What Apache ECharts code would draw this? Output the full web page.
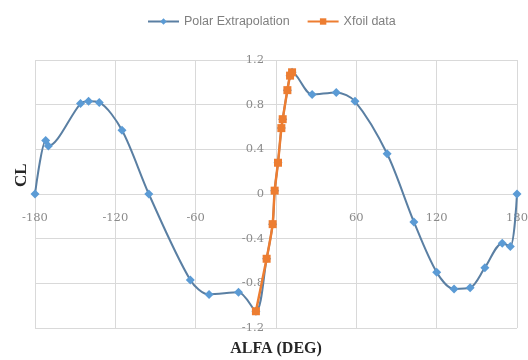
<!DOCTYPE html>
<html>
<head>
<meta charset="utf-8">
<script src="https://cdn.jsdelivr.net/npm/echarts@6/dist/echarts.min.js"></script>
<style>
  html, body { margin: 0; padding: 0; background: #ffffff; }
  #chart { width: 528px; height: 360px; }
</style>
</head>
<body>
<div id="chart"></div>
<script>
// Lift coefficient vs angle of attack
var xTicks = [-180, -120, -60, 0, 60, 120, 180];
var yTicks = [-1.2, -0.8, -0.4, 0, 0.4, 0.8, 1.2];

// Xfoil data (alpha in degrees, CL)
var xfoilAlpha = [-15, -7, -2.5, -1, 1.5, 4, 5, 8.5, 10.5, 12];
var xfoilCL    = [-1.05, -0.58, -0.27, 0.03, 0.28, 0.59, 0.67, 0.93, 1.06, 1.09];

// Polar extrapolation over the full range
var polarAlpha = [-180, -172, -170, -146, -140, -132, -115, -95, -64, -50, -28,
                  -15, -7, -2.5, -1, 1.5, 4, 5, 8.5, 10.5, 12,
                  27, 45, 59, 83, 103, 120, 133, 145, 156, 169, 175, 180];
var polarCL    = [0, 0.48, 0.43, 0.81, 0.83, 0.82, 0.57, 0, -0.77, -0.9, -0.88,
                  -1.05, -0.58, -0.27, 0.03, 0.28, 0.59, 0.67, 0.93, 1.06, 1.09,
                  0.89, 0.91, 0.83, 0.36, -0.25, -0.7, -0.85, -0.84, -0.66, -0.44, -0.47, 0];

function pairs(xs, ys) {
  return xs.map(function (x, i) { return [x, ys[i]]; });
}

var chart = echarts.init(document.getElementById('chart'), null, { renderer: 'canvas' });

var GRID = { left: 35, right: 11, top: 60, bottom: 32, outerBoundsMode: 'none' };
var labelFont = { color: '#8a8a8a', fontFamily: 'DejaVu Serif, Liberation Serif, serif', fontSize: 11.5 };
var hiddenLine = { show: false, onZero: false };
var gridLine = { show: true, lineStyle: { color: '#d9d9d9', width: 1 } };

chart.setOption({
  animation: false,
  backgroundColor: '#ffffff',
  grid: GRID,
  legend: {
    top: 10,
    left: 142,
    itemWidth: 31,
    itemHeight: 8,
    itemGap: 17,
    textStyle: { color: '#7f7f7f', fontSize: 12.5, fontFamily: 'Liberation Sans, Arial, sans-serif' },
    data: ['Polar Extrapolation', 'Xfoil data']
  },
  xAxis: {
    type: 'value',
    min: xTicks[0],
    max: xTicks[xTicks.length - 1],
    interval: 60,
    axisLine: hiddenLine,
    axisTick: { show: false },
    axisLabel: Object.assign({
      margin: 18,
      formatter: function (v) { return v === 0 ? '' : String(v); }
    }, labelFont),
    splitLine: gridLine
  },
  yAxis: {
    type: 'value',
    min: yTicks[0],
    max: yTicks[yTicks.length - 1],
    interval: 0.4,
    axisLine: hiddenLine,
    axisTick: { show: false },
    axisLabel: Object.assign({
      margin: 12,
      formatter: function (v) { return String(Math.round(v * 10) / 10); }
    }, labelFont),
    splitLine: gridLine
  },
  series: [
    {
      name: 'Polar Extrapolation',
      type: 'line',
      smooth: 0.3,
      data: pairs(polarAlpha, polarCL),
      symbol: 'diamond',
      symbolSize: 9,
      lineStyle: { color: '#5a7fa3', width: 2 },
      itemStyle: { color: '#5b9bd5' },
      z: 2
    },
    {
      name: 'Xfoil data',
      type: 'line',
      smooth: 0.2,
      data: pairs(xfoilAlpha, xfoilCL),
      symbol: 'rect',
      symbolSize: 8,
      lineStyle: { color: '#ed7d31', width: 2.5 },
      itemStyle: { color: '#ed7d31' },
      z: 3
    }
  ],
  graphic: [
    {
      type: 'text',
      x: 276,
      y: 341,
      style: {
        text: 'ALFA (DEG)',
        align: 'center',
        fill: '#262626',
        font: 'bold 16px "Liberation Serif", "DejaVu Serif", serif'
      }
    },
    {
      type: 'text',
      x: 13,
      y: 187,
      rotation: Math.PI / 2,
      style: {
        text: 'CL',
        fill: '#262626',
        font: 'bold 17px "Liberation Serif", "DejaVu Serif", serif'
      }
    }
  ]
});

// Move both axes so they cross at the origin (0, 0), like the chart's axes.
var origin = chart.convertToPixel({ gridIndex: 0 }, [0, 0]);
var bottomY = 360 - GRID.bottom;
chart.setOption({
  xAxis: { offset: -(bottomY - origin[1]) },
  yAxis: { offset: -(origin[0] - GRID.left) }
});
</script>
</body>
</html>
